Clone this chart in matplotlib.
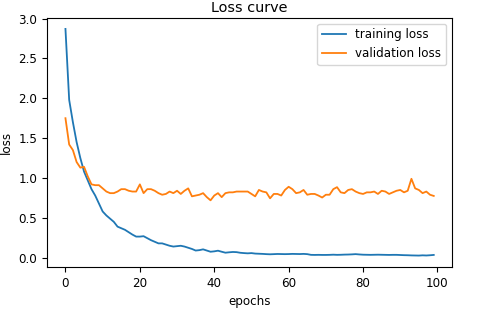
import matplotlib
matplotlib.use("Agg")
import matplotlib.pyplot as plt

epochs = list(range(100))

training_loss = [
    2.87, 1.98, 1.70, 1.45, 1.25, 1.08, 0.97, 0.86, 0.78, 0.68,
    0.58, 0.53, 0.49, 0.45, 0.39, 0.37, 0.35, 0.32, 0.29, 0.265,
    0.265, 0.27, 0.245, 0.22, 0.20, 0.18, 0.18, 0.165, 0.15, 0.14,
    0.145, 0.15, 0.14, 0.125, 0.11, 0.09, 0.095, 0.105, 0.09, 0.075,
    0.08, 0.088, 0.075, 0.063, 0.068, 0.072, 0.07, 0.062, 0.058, 0.055,
    0.058, 0.052, 0.05, 0.048, 0.045, 0.043, 0.045, 0.047, 0.046, 0.045,
    0.046, 0.048, 0.047, 0.046, 0.048, 0.045, 0.036, 0.035, 0.036, 0.035,
    0.035, 0.036, 0.038, 0.036, 0.037, 0.039, 0.04, 0.042, 0.045, 0.041,
    0.038, 0.037, 0.036, 0.037, 0.038, 0.037, 0.036, 0.035, 0.036, 0.036,
    0.034, 0.032, 0.031, 0.029, 0.028, 0.027, 0.03, 0.028, 0.031, 0.035,
]

validation_loss = [
    1.75, 1.42, 1.35, 1.20, 1.13, 1.14, 1.02, 0.92, 0.91, 0.91,
    0.87, 0.83, 0.81, 0.81, 0.83, 0.86, 0.86, 0.84, 0.83, 0.83,
    0.92, 0.81, 0.86, 0.86, 0.84, 0.81, 0.79, 0.80, 0.83, 0.81,
    0.84, 0.80, 0.84, 0.87, 0.77, 0.78, 0.79, 0.81, 0.76, 0.72,
    0.78, 0.81, 0.76, 0.81, 0.82, 0.82, 0.83, 0.83, 0.83, 0.83,
    0.80, 0.77, 0.85, 0.83, 0.82, 0.745, 0.80, 0.80, 0.78, 0.85,
    0.89, 0.86, 0.81, 0.82, 0.85, 0.79, 0.80, 0.80, 0.78, 0.755,
    0.79, 0.79, 0.86, 0.885, 0.82, 0.81, 0.85, 0.86, 0.83, 0.81,
    0.80, 0.82, 0.82, 0.83, 0.80, 0.84, 0.83, 0.80, 0.82, 0.84,
    0.85, 0.82, 0.84, 0.99, 0.87, 0.85, 0.81, 0.83, 0.79, 0.775,
]

fs = 8.6
fig = plt.figure(figsize=(4.8, 3.14), dpi=100)
ax = fig.add_axes([0.098, 0.150, 0.844, 0.794])
ax.plot(epochs, training_loss, color="#1f77b4", lw=1.3, label="training loss")
ax.plot(epochs, validation_loss, color="#ff7f0e", lw=1.3, label="validation loss")
ax.set_title("Loss curve", fontsize=fs * 1.2, pad=4)
ax.set_xlabel("epochs", fontsize=fs)
ax.set_ylabel("loss", fontsize=fs)
ax.tick_params(labelsize=fs)
ax.set_xticks([0, 20, 40, 60, 80, 100])
ax.legend(loc="upper right", fontsize=fs)
fig.savefig("out.png", dpi=100)
